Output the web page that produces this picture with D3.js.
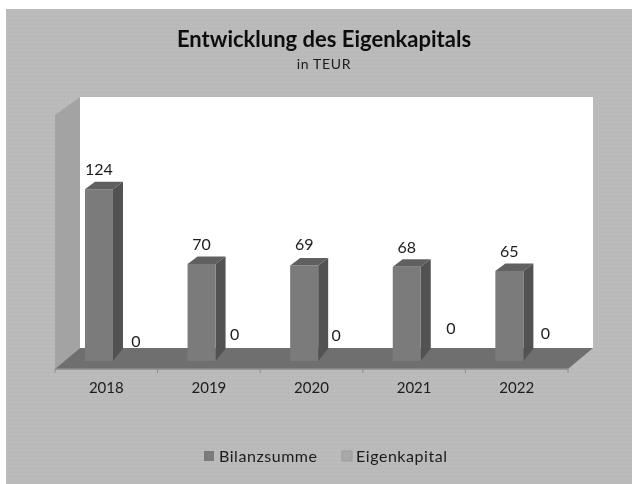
<!DOCTYPE html>
<html><head><meta charset="utf-8">
<style>html,body{margin:0;padding:0;background:#fff}svg{display:block}text{font-family:Lato,"Open Sans",sans-serif;fill:#1c1c1c;filter:url(#soft)}</style>
<script src="https://cdnjs.cloudflare.com/ajax/libs/d3/7.8.5/d3.min.js"></script>
</head><body><svg id="c" width="632" height="484"></svg>
<script>
const categories=["2018","2019","2020","2021","2022"];
const bilanzsumme=[124,70,69,68,65];
const eigenkapital=[0,0,0,0,0];
const seriesNames=["Bilanzsumme","Eigenkapital"];
const titleText="Entwicklung des Eigenkapitals";
const subtitleText="in TEUR";
const yTicks=[0,140];

const svg=d3.select("#c");
const defs=svg.append("defs");
defs.append("filter").attr("id","soft").append("feGaussianBlur").attr("stdDeviation",0.35);
const pat=defs.append("pattern").attr("id","bgtex").attr("width",4).attr("height",4).attr("patternUnits","userSpaceOnUse");
pat.append("rect").attr("width",4).attr("height",4).attr("fill","#bababa");
pat.append("rect").attr("width",1).attr("height",1).attr("fill","#b5b5b5");
pat.append("rect").attr("x",2).attr("y",2).attr("width",1).attr("height",1).attr("fill","#bebebe");

svg.append("rect").attr("x",6).attr("y",9).attr("width",626).attr("height",475).attr("fill","url(#bgtex)");

const x0=55,xEnd=568,depthX=25,depthY=21,floorFront=369;
const x=d3.scaleBand().domain(categories).range([x0,xEnd]);
const y=d3.scaleLinear().domain(yTicks).range([floorFront-8,361-194]);
const line=d3.line();
const backTop=97;
const poly=(pts,fill)=>svg.append("path").attr("d",line(pts)+"Z").attr("fill",fill);
poly([[x0+depthX,backTop],[xEnd+depthX,backTop],[xEnd+depthX,floorFront-depthY],[x0+depthX,floorFront-depthY]],"#ffffff");
poly([[x0,backTop+18],[x0+depthX,backTop],[x0+depthX,floorFront-depthY],[x0,floorFront]],"#a3a3a3");
poly([[x0,floorFront],[x0+depthX,floorFront-depthY],[xEnd+depthX,floorFront-depthY],[xEnd,floorFront]],"#6f6f6f");

svg.append("path").attr("d",line([[x0,floorFront],[xEnd,floorFront]])).attr("stroke","#8c8c8c").attr("stroke-width",1.5);
x.domain().concat(["end"]).forEach((c,i)=>{
  const tx=x0+i*x.step();
  svg.append("line").attr("x1",tx).attr("x2",tx).attr("y1",floorFront).attr("y2",floorFront+4).attr("stroke","#8c8c8c");
});

const barOff=x.step()*0.292,barW=x.step()*0.273,dx=10,dy=7.5;
const g=svg.append("g");
g.selectAll("g").data(categories).join("g").each(function(c,i){
  const s=d3.select(this),l=x(c)+barOff,r=l+barW,t=y(bilanzsumme[i]),b=y(0);
  s.append("path").attr("d",line([[l,t],[r,t],[r+dx,t-dy],[l+dx,t-dy]])+"Z").attr("fill","#606060");
  s.append("path").attr("d",line([[r,t],[r+dx,t-dy],[r+dx,b-dy-5],[r,b]])+"Z").attr("fill","#525252");
  s.append("rect").attr("x",l).attr("y",t).attr("width",barW).attr("height",b-t).attr("fill","#7b7b7b");
});

const nudgeA=[[0,0],[0,0],[0,-1],[0,0],[0,0]];
const nudgeB=[[1,0],[-3,-7],[-4,-6],[8,-13],[0,-8]];
categories.forEach((c,i)=>{
  svg.append("text").attr("x",x(c)+barOff+barW/2+nudgeA[i][0]).attr("y",y(bilanzsumme[i])-14+nudgeA[i][1]).attr("text-anchor","middle").attr("font-size",16).text(bilanzsumme[i]);
  svg.append("text").attr("x",x(c)+barOff+barW+22+nudgeB[i][0]).attr("y",y(eigenkapital[i])-14+nudgeB[i][1]).attr("text-anchor","middle").attr("font-size",16).text(eigenkapital[i]);
  svg.append("text").attr("x",x(c)+x.bandwidth()/2).attr("y",393).attr("text-anchor","middle").attr("font-size",15).text(c);
});

svg.append("text").attr("x",324).attr("y",47).attr("text-anchor","middle").attr("font-size",22).attr("font-weight",700).style("fill","#111").text(titleText);
svg.append("text").attr("x",324).attr("y",69).attr("text-anchor","middle").attr("font-size",14).attr("letter-spacing",0.7).text(subtitleText);

const legX=[204,342],legFill=["#7b7b7b","#a9a9a9"],legStroke=["none","#9c9c9c"];
seriesNames.forEach((n,i)=>{
  svg.append("rect").attr("x",legX[i]).attr("y",451).attr("width",10).attr("height",10).attr("fill",legFill[i]).attr("stroke",legStroke[i]);
  svg.append("text").attr("x",legX[i]+14+(i?0:1)).attr("y",462).attr("font-size",16).attr("letter-spacing",0.55).text(n);
});
</script></body></html>
